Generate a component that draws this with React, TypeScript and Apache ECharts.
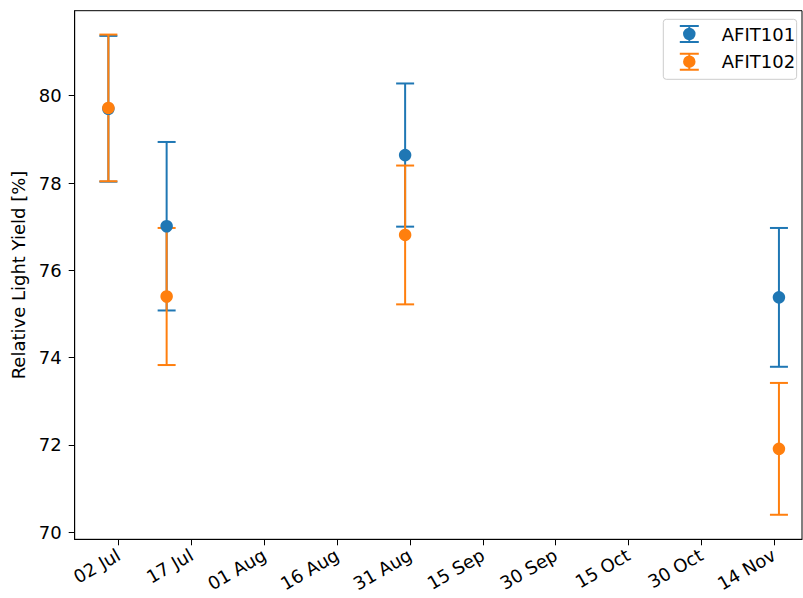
import React, { useEffect, useRef } from "react";
import * as echarts from "echarts";

// Measurement dates (UTC) and relative light yield per sample
const measurementDates = ["2023-06-29T21:00Z", "2023-07-11T21:00Z", "2023-08-30T00:00Z", "2023-11-15T00:00Z"];
const afit101Yield = [79.70, 77.01, 78.64, 75.38];
const afit101Error = [1.67, 1.93, 1.64, 1.59];
const afit102Yield = [79.72, 75.40, 76.81, 71.91];
const afit102Error = [1.68, 1.57, 1.59, 1.51];

// Axis ticks
const xTickDates = [
  "2023-07-02", "2023-07-17", "2023-08-01", "2023-08-16", "2023-08-31",
  "2023-09-15", "2023-09-30", "2023-10-15", "2023-10-30", "2023-11-14",
];
const yTicks = [70, 72, 74, 76, 78, 80];
const xRange = ["2023-06-22T22:30Z", "2023-11-19T18:00Z"];
const yRange = [69.838, 81.947];

const MONTHS = ["Jan", "Feb", "Mar", "Apr", "May", "Jun", "Jul", "Aug", "Sep", "Oct", "Nov", "Dec"];
const toMs = (s: string) => Date.parse(s.length === 10 ? s + "T00:00Z" : s);
const fmtDate = (v: number) => {
  const d = new Date(v);
  return String(d.getUTCDate()).padStart(2, "0") + " " + MONTHS[d.getUTCMonth()];
};

const BLUE = "#1f77b4";
const ORANGE = "#ff7f0e";
const FONT = "DejaVu Sans";
const FONT_SIZE = 18;

// Errorbar legend glyph: two caps, a stem and a round marker
const ERRORBAR_ICON =
  "path://M0 0h19v2H0z M0 16h19v2H0z M8.5 0h2v18h-2z M3.25 9a6.25 6.25 0 1 1 12.5 0a6.25 6.25 0 1 1 -12.5 0z";

function errorBarSeries(name: string, values: number[], errors: number[], color: string) {
  return {
    type: "custom",
    name: name + " errors",
    silent: true,
    z: 1,
    data: values.map((v, i) => [toMs(measurementDates[i]), v, errors[i]]),
    renderItem: (_params: any, api: any) => {
      const x = api.value(0);
      const y = api.value(1);
      const e = api.value(2);
      const top = api.coord([x, y + e]);
      const bot = api.coord([x, y - e]);
      const style = { stroke: color, lineWidth: 2 };
      const cap = 9;
      return {
        type: "group",
        children: [
          { type: "line", shape: { x1: top[0], y1: top[1], x2: bot[0], y2: bot[1] }, style },
          { type: "line", shape: { x1: top[0] - cap, y1: top[1], x2: top[0] + cap, y2: top[1] }, style },
          { type: "line", shape: { x1: bot[0] - cap, y1: bot[1], x2: bot[0] + cap, y2: bot[1] }, style },
        ],
      };
    },
  };
}

function markerSeries(name: string, values: number[], color: string) {
  return {
    type: "scatter",
    name,
    z: 3,
    symbol: "circle",
    symbolSize: 12.5,
    itemStyle: { color, opacity: 1 },
    data: values.map((v, i) => [toMs(measurementDates[i]), v]),
  };
}

export default function App() {
  const ref = useRef<HTMLDivElement>(null);

  useEffect(() => {
    if (!ref.current) return;
    const chart = echarts.init(ref.current, undefined, { renderer: "svg" });
    const xTicks = xTickDates.map(toMs);

    chart.setOption({
      animation: false,
      backgroundColor: "#ffffff",
      textStyle: { fontFamily: FONT },
      grid: {
        left: 74.7,
        top: 10.7,
        right: 1,
        bottom: 58.7,
        show: true,
        borderColor: "#000000",
        borderWidth: 1,
        containLabel: false,
      },
      legend: {
        orient: "vertical",
        left: 663.3,
        top: 19.3,
        padding: [5.2, 1.5, 8.1, 16.5],
        itemWidth: 19,
        itemHeight: 18,
        itemGap: 8.7,
        backgroundColor: "rgba(255,255,255,0.8)",
        borderColor: "#cccccc",
        borderWidth: 1,
        borderRadius: 3,
        textStyle: { fontFamily: FONT, fontSize: FONT_SIZE, color: "#000", padding: [0, 0, 0, 18], lineHeight: 19 },
        data: [
          { name: "AFIT101", icon: ERRORBAR_ICON },
          { name: "AFIT102", icon: ERRORBAR_ICON },
        ],
      },
      xAxis: {
        type: "value",
        min: toMs(xRange[0]),
        max: toMs(xRange[1]),
        splitLine: { show: false },
        axisLine: { show: true, onZero: false, lineStyle: { color: "#000", width: 1 } },
        axisTick: { show: true, length: 6, customValues: xTicks, lineStyle: { color: "#000", width: 1 } },
        axisLabel: {
          customValues: xTicks,
          formatter: (v: number) => fmtDate(v),
          rotate: 30,
          margin: 14,
          fontSize: FONT_SIZE,
          color: "#000",
          fontFamily: FONT,
        },
      },
      yAxis: {
        type: "value",
        name: "Relative Light Yield [%]",
        nameLocation: "middle",
        nameGap: 42,
        nameTextStyle: { fontSize: FONT_SIZE, color: "#000", fontFamily: FONT },
        min: yRange[0],
        max: yRange[1],
        splitLine: { show: false },
        axisLine: { show: true, lineStyle: { color: "#000", width: 1 } },
        axisTick: { show: true, length: 6, customValues: yTicks, lineStyle: { color: "#000", width: 1 } },
        axisLabel: {
          customValues: yTicks,
          margin: 13,
          fontSize: FONT_SIZE,
          color: "#000",
          fontFamily: FONT,
        },
      },
      series: [
        errorBarSeries("AFIT101", afit101Yield, afit101Error, BLUE),
        errorBarSeries("AFIT102", afit102Yield, afit102Error, ORANGE),
        markerSeries("AFIT101", afit101Yield, BLUE),
        markerSeries("AFIT102", afit102Yield, ORANGE),
      ],
    });

    return () => chart.dispose();
  }, []);

  return (
    <div
      ref={ref}
      style={{ position: "absolute", left: 0, top: 0, width: 803, height: 598 }}
    />
  );
}
